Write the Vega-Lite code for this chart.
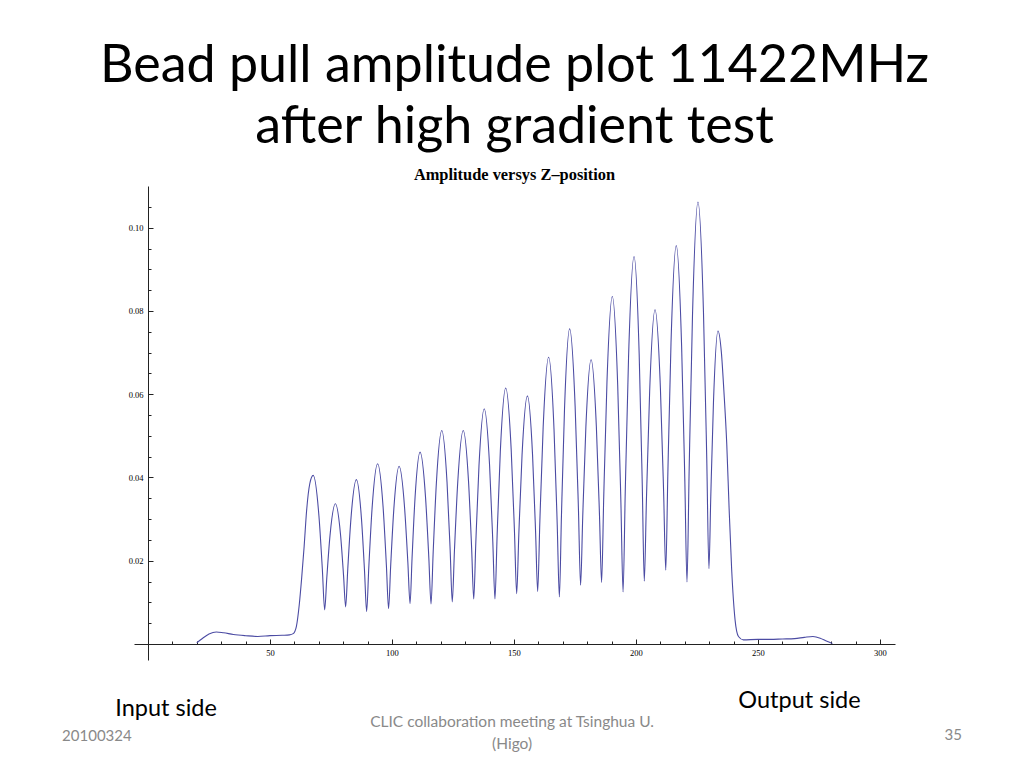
{
  "$schema": "https://vega.github.io/schema/vega-lite/v6.json",
  "description": "Bead pull amplitude versus Z-position, 11422 MHz, after high gradient test.",
  "width": 761,
  "height": 474,
  "autosize": {"type": "none"},
  "padding": {"left": 134, "top": 186, "right": 129, "bottom": 108},
  "background": "white",
  "config": {"view": {"stroke": null}, "axis": {"labelOverlap": false}},
  "title": {
    "text": ["Bead pull amplitude plot 11422MHz", "after high gradient test"],
    "subtitle": "Amplitude versys Z–position",
    "anchor": "middle",
    "frame": "group",
    "font": "Lato",
    "fontSize": 52,
    "fontWeight": "normal",
    "lineHeight": 61,
    "color": "black",
    "subtitleFont": "Liberation Serif",
    "subtitleFontSize": 16.4,
    "subtitleFontWeight": "bold",
    "subtitleColor": "black",
    "subtitlePadding": 12.5,
    "offset": 2
  },
  "resolve": {"axis": {"x": "independent", "y": "independent"}},
  "layer": [
    {
      "data": {
        "values": [
          {"z": 20, "amplitude": 0.0003}, {"z": 22, "amplitude": 0.0012}, {"z": 25, "amplitude": 0.0024},
          {"z": 28, "amplitude": 0.0029}, {"z": 31, "amplitude": 0.0027}, {"z": 35, "amplitude": 0.0023},
          {"z": 40, "amplitude": 0.0020}, {"z": 45, "amplitude": 0.0018}, {"z": 50, "amplitude": 0.0020},
          {"z": 55, "amplitude": 0.0021}, {"z": 58, "amplitude": 0.0022}, {"z": 59.5, "amplitude": 0.0025},
          {"z": 60.8, "amplitude": 0.0042}, {"z": 62.0, "amplitude": 0.0095}, {"z": 63.0, "amplitude": 0.0160},
          {"z": 64.0, "amplitude": 0.0235}, {"z": 65.0, "amplitude": 0.0320}, {"z": 66.3, "amplitude": 0.0385},
          {"z": 67.7, "amplitude": 0.0405}, {"z": 70.05, "amplitude": 0.0308}, {"z": 71.46, "amplitude": 0.0179}, {"z": 72.4, "amplitude": 0.0082},
          {"z": 73.28, "amplitude": 0.0159}, {"z": 74.6, "amplitude": 0.0261}, {"z": 76.8, "amplitude": 0.0337},
          {"z": 78.9, "amplitude": 0.0263}, {"z": 80.16, "amplitude": 0.0163}, {"z": 81.0, "amplitude": 0.0089},
          {"z": 81.88, "amplitude": 0.0181}, {"z": 83.2, "amplitude": 0.0303}, {"z": 85.4, "amplitude": 0.0395},
          {"z": 87.5, "amplitude": 0.0300}, {"z": 88.76, "amplitude": 0.0173}, {"z": 89.6, "amplitude": 0.0078},
          {"z": 90.5, "amplitude": 0.0185}, {"z": 91.85, "amplitude": 0.0327}, {"z": 94.1, "amplitude": 0.0433},
          {"z": 96.35, "amplitude": 0.0329}, {"z": 97.7, "amplitude": 0.0189}, {"z": 98.6, "amplitude": 0.0085},
          {"z": 99.46, "amplitude": 0.0188}, {"z": 100.75, "amplitude": 0.0324}, {"z": 102.9, "amplitude": 0.0427},
          {"z": 105.15, "amplitude": 0.0328}, {"z": 106.5, "amplitude": 0.0196}, {"z": 107.4, "amplitude": 0.0097},
          {"z": 108.22, "amplitude": 0.0206}, {"z": 109.45, "amplitude": 0.0352}, {"z": 111.5, "amplitude": 0.0461},
          {"z": 113.75, "amplitude": 0.0352}, {"z": 115.1, "amplitude": 0.0206}, {"z": 116.0, "amplitude": 0.0096},
          {"z": 116.88, "amplitude": 0.0221}, {"z": 118.2, "amplitude": 0.0388}, {"z": 120.4, "amplitude": 0.0513},
          {"z": 122.55, "amplitude": 0.0389}, {"z": 123.84, "amplitude": 0.0225}, {"z": 124.7, "amplitude": 0.0101},
          {"z": 125.6, "amplitude": 0.0225}, {"z": 126.95, "amplitude": 0.0389}, {"z": 129.2, "amplitude": 0.0513},
          {"z": 131.35, "amplitude": 0.0392}, {"z": 132.64, "amplitude": 0.0230}, {"z": 133.5, "amplitude": 0.0108},
          {"z": 134.36, "amplitude": 0.0245}, {"z": 135.65, "amplitude": 0.0428}, {"z": 137.8, "amplitude": 0.0565},
          {"z": 140.0, "amplitude": 0.0428}, {"z": 141.32, "amplitude": 0.0245}, {"z": 142.2, "amplitude": 0.0108},
          {"z": 143.08, "amplitude": 0.0260}, {"z": 144.4, "amplitude": 0.0463}, {"z": 146.6, "amplitude": 0.0615},
          {"z": 148.85, "amplitude": 0.0467}, {"z": 150.2, "amplitude": 0.0269}, {"z": 151.1, "amplitude": 0.0121},
          {"z": 151.98, "amplitude": 0.0264}, {"z": 153.3, "amplitude": 0.0454}, {"z": 155.5, "amplitude": 0.0596},
          {"z": 157.6, "amplitude": 0.0455}, {"z": 158.86, "amplitude": 0.0267}, {"z": 159.7, "amplitude": 0.0126},
          {"z": 160.6, "amplitude": 0.0295}, {"z": 161.95, "amplitude": 0.0520}, {"z": 164.2, "amplitude": 0.0689},
          {"z": 166.4, "amplitude": 0.0516}, {"z": 167.72, "amplitude": 0.0286}, {"z": 168.6, "amplitude": 0.0113},
          {"z": 169.44, "amplitude": 0.0306}, {"z": 170.7, "amplitude": 0.0564}, {"z": 172.8, "amplitude": 0.0757},
          {"z": 175.05, "amplitude": 0.0572}, {"z": 176.4, "amplitude": 0.0326}, {"z": 177.3, "amplitude": 0.0141},
          {"z": 178.16, "amplitude": 0.0304}, {"z": 179.45, "amplitude": 0.0520}, {"z": 181.6, "amplitude": 0.0683},
          {"z": 183.75, "amplitude": 0.0523}, {"z": 185.04, "amplitude": 0.0309}, {"z": 185.9, "amplitude": 0.0148},
          {"z": 186.78, "amplitude": 0.0354}, {"z": 188.1, "amplitude": 0.0629}, {"z": 190.3, "amplitude": 0.0835},
          {"z": 192.5, "amplitude": 0.0622}, {"z": 193.82, "amplitude": 0.0338}, {"z": 194.7, "amplitude": 0.0125},
          {"z": 195.6, "amplitude": 0.0367}, {"z": 196.95, "amplitude": 0.0689}, {"z": 199.2, "amplitude": 0.0931},
          {"z": 201.3, "amplitude": 0.0697}, {"z": 202.56, "amplitude": 0.0385}, {"z": 203.4, "amplitude": 0.0151},
          {"z": 204.28, "amplitude": 0.0347}, {"z": 205.6, "amplitude": 0.0607}, {"z": 207.8, "amplitude": 0.0803},
          {"z": 210.0, "amplitude": 0.0615}, {"z": 211.32, "amplitude": 0.0365}, {"z": 212.2, "amplitude": 0.0177},
          {"z": 213.06, "amplitude": 0.0411}, {"z": 214.35, "amplitude": 0.0723}, {"z": 216.5, "amplitude": 0.0957},
          {"z": 218.7, "amplitude": 0.0715}, {"z": 220.02, "amplitude": 0.0391}, {"z": 220.9, "amplitude": 0.0149},
          {"z": 221.8, "amplitude": 0.0423}, {"z": 223.15, "amplitude": 0.0788}, {"z": 225.4, "amplitude": 0.1062},
          {"z": 227.65, "amplitude": 0.0798}, {"z": 229.0, "amplitude": 0.0445}, {"z": 229.9, "amplitude": 0.0181},
          {"z": 230.64, "amplitude": 0.0352}, {"z": 231.75, "amplitude": 0.0581}, {"z": 233.6, "amplitude": 0.0752},
          {"z": 235.0, "amplitude": 0.0700}, {"z": 236.0, "amplitude": 0.0610}, {"z": 237.2, "amplitude": 0.0480},
          {"z": 238.2, "amplitude": 0.0320}, {"z": 239.2, "amplitude": 0.0180}, {"z": 240.6, "amplitude": 0.0058},
          {"z": 242.0, "amplitude": 0.0018}, {"z": 244.0, "amplitude": 0.0010}, {"z": 250, "amplitude": 0.0011},
          {"z": 255, "amplitude": 0.0011}, {"z": 260, "amplitude": 0.0012}, {"z": 265, "amplitude": 0.0013},
          {"z": 269, "amplitude": 0.0016}, {"z": 272.5, "amplitude": 0.0018}, {"z": 275.5, "amplitude": 0.0014},
          {"z": 278, "amplitude": 0.0007}, {"z": 280.5, "amplitude": 0.0001}
        ]
      },
      "mark": {"type": "line", "interpolate": "monotone", "color": "#4b4ba3", "strokeWidth": 1.1},
      "encoding": {
        "x": {
          "field": "z",
          "type": "quantitative",
          "scale": {"domain": [-5.738, 306.15], "nice": false, "zero": false},
          "axis": {
            "orient": "bottom",
            "offset": -16,
            "title": null,
            "grid": false,
            "values": [10, 20, 30, 40, 50, 60, 70, 80, 90, 100, 110, 120, 130, 140, 150, 160, 170, 180, 190, 200, 210, 220, 230, 240, 250, 260, 270, 280, 290, 300],
            "format": "d",
            "labelExpr": "datum.value % 50 === 0 ? datum.label : ''",
            "tickSize": {"condition": {"test": "datum.value % 50 === 0", "value": -5}, "value": -3},
            "domainColor": "#222222",
            "tickColor": "#222222",
            "labelColor": "black",
            "labelFont": "Liberation Serif",
            "labelFontSize": 8.5,
            "labelPadding": 9,
            "labelFlush": false,
            "labelOverlap": false
          }
        },
        "y": {
          "field": "amplitude",
          "type": "quantitative",
          "scale": {"domain": [-0.003844, 0.11003], "nice": false, "zero": false},
          "axis": {
            "orient": "left",
            "offset": -14,
            "title": null,
            "grid": false,
            "values": [0.005, 0.01, 0.015, 0.02, 0.025, 0.03, 0.035, 0.04, 0.045, 0.05, 0.055, 0.06, 0.065, 0.07, 0.075, 0.08, 0.085, 0.09, 0.095, 0.1, 0.105],
            "labelExpr": "round(datum.value * 1000) % 20 === 0 ? format(datum.value, '.2f') : ''",
            "tickSize": {"condition": {"test": "round(datum.value * 1000) % 20 === 0", "value": -5}, "value": -3},
            "domainColor": "#222222",
            "tickColor": "#222222",
            "labelColor": "black",
            "labelFont": "Liberation Serif",
            "labelFontSize": 8.5,
            "labelPadding": 10,
            "labelFlush": false,
            "labelOverlap": false
          }
        }
      }
    },
    {
      "data": {"values": [{}]},
      "mark": {"type": "text", "text": "Input side", "font": "Lato", "fontSize": 23.5, "align": "center", "baseline": "alphabetic", "color": "black", "clip": false},
      "encoding": {"x": {"datum": 7.4, "axis": null}, "y": {"datum": -0.01723, "axis": null}}
    },
    {
      "data": {"values": [{}]},
      "mark": {"type": "text", "text": "Output side", "font": "Lato", "fontSize": 23.5, "align": "center", "baseline": "alphabetic", "color": "black", "clip": false},
      "encoding": {"x": {"datum": 267.0, "axis": null}, "y": {"datum": -0.01532, "axis": null}}
    },
    {
      "data": {"values": [{}]},
      "mark": {"type": "text", "text": "20100324", "font": "Lato", "fontSize": 15, "align": "left", "baseline": "alphabetic", "color": "#898989", "clip": false},
      "encoding": {"x": {"datum": -35.2, "axis": null}, "y": {"datum": -0.02336, "axis": null}}
    },
    {
      "data": {"values": [{}]},
      "mark": {"type": "text", "text": "CLIC collaboration meeting at Tsinghua U.", "font": "Lato", "fontSize": 15.5, "align": "center", "baseline": "alphabetic", "color": "#898989", "clip": false},
      "encoding": {"x": {"datum": 149.2, "axis": null}, "y": {"datum": -0.01988, "axis": null}}
    },
    {
      "data": {"values": [{}]},
      "mark": {"type": "text", "text": "(Higo)", "font": "Lato", "fontSize": 15.5, "align": "center", "baseline": "alphabetic", "color": "#898989", "clip": false},
      "encoding": {"x": {"datum": 149.2, "axis": null}, "y": {"datum": -0.02516, "axis": null}}
    },
    {
      "data": {"values": [{}]},
      "mark": {"type": "text", "text": "35", "font": "Lato", "fontSize": 15, "align": "right", "baseline": "alphabetic", "color": "#898989", "clip": false},
      "encoding": {"x": {"datum": 333.6, "axis": null}, "y": {"datum": -0.02314, "axis": null}}
    }
  ]
}
